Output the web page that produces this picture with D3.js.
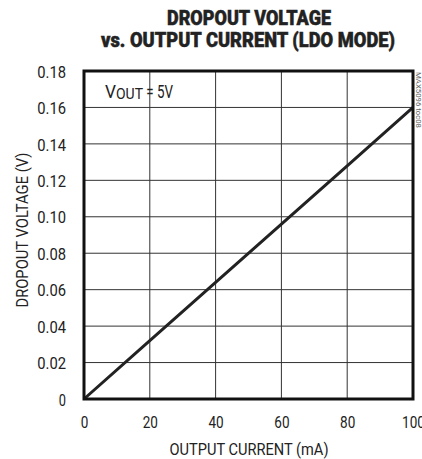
<!DOCTYPE html>
<html><head><meta charset="utf-8">
<script src="https://cdn.jsdelivr.net/npm/d3@7"></script>
<style>
html,body{margin:0;padding:0;background:#fff;}
svg{display:block;}
text{font-family:Roboto,sans-serif;fill:#222;}
</style></head>
<body>
<svg id="c" width="422" height="459"></svg>
<script>
const titleLines = ["DROPOUT VOLTAGE", "vs. OUTPUT CURRENT (LDO MODE)"];
const xTicks = [0, 20, 40, 60, 80, 100];
const yTicks = [0, 0.02, 0.04, 0.06, 0.08, 0.10, 0.12, 0.14, 0.16, 0.18];
const yTickLabels = ["0", "0.02", "0.04", "0.06", "0.08", "0.10", "0.12", "0.14", "0.16", "0.18"];
const current = [0, 20, 40, 60, 80, 100];
const dropout = [0, 0.032, 0.064, 0.096, 0.128, 0.16];

const svg = d3.select("#c");
const L = 84, R = 413, T = 71, B = 399;
const x = d3.scaleLinear().domain([0, 100]).range([L, R]);
const y = d3.scaleLinear().domain([0, 0.18]).range([B, T]);

function narrow(sel, perChar) {
  sel.each(function() {
    const t = d3.select(this);
    const n = t.text().length;
    t.attr("textLength", n * perChar).attr("lengthAdjust", "spacingAndGlyphs");
  });
}

// title
svg.append("text").attr("x", 249).attr("y", 25).attr("text-anchor", "middle")
  .attr("font-weight", "900").attr("font-size", 21).attr("stroke", "#222").attr("stroke-width", 0.5)
  .attr("textLength", 164).attr("lengthAdjust", "spacingAndGlyphs").text(titleLines[0]);
svg.append("text").attr("x", 248).attr("y", 47).attr("text-anchor", "middle")
  .attr("font-weight", "900").attr("font-size", 21).attr("stroke", "#222").attr("stroke-width", 0.5)
  .attr("textLength", 294).attr("lengthAdjust", "spacingAndGlyphs").text(titleLines[1]);

// grid
const g = svg.append("g");
g.selectAll(".vg").data(xTicks.slice(1, -1)).enter().append("line")
  .attr("x1", d => x(d)).attr("x2", d => x(d)).attr("y1", T).attr("y2", B)
  .attr("stroke", "#333").attr("stroke-width", 1);
g.selectAll(".hg").data(yTicks.slice(1, -1)).enter().append("line")
  .attr("y1", d => y(d)).attr("y2", d => y(d)).attr("x1", L).attr("x2", R)
  .attr("stroke", "#333").attr("stroke-width", 1);

// axes (labels only)
const xAxis = d3.axisBottom(x).tickValues(xTicks).tickSize(0).tickPadding(0).tickFormat(d3.format("d"));
const xa = svg.append("g").attr("transform", `translate(0,${B})`).call(xAxis);
xa.select(".domain").remove();
xa.selectAll("text").attr("font-size", 17).attr("dy", null).attr("y", 29)
  .attr("font-family", null).attr("fill", "#222").call(narrow, 7.6);

const yAxis = d3.axisLeft(y).tickValues(yTicks).tickSize(0).tickPadding(0)
  .tickFormat((d, i) => yTickLabels[i]);
const ya = svg.append("g").attr("transform", `translate(${L},0)`).call(yAxis);
ya.select(".domain").remove();
ya.selectAll("text").attr("font-size", 17).attr("x", -18).attr("dy", "0.36em")
  .attr("font-family", null).attr("fill", "#222").call(narrow, 7.2);
svg.selectAll(".tick text").style("font-family", "Roboto, sans-serif");

// data line
const line = d3.line().x((d, i) => x(current[i])).y(d => y(d));
svg.append("path").datum(dropout).attr("d", line).attr("fill", "none")
  .attr("stroke", "#222").attr("stroke-width", 3);

// frame
svg.append("rect").attr("x", L).attr("y", T).attr("width", R - L).attr("height", B - T)
  .attr("fill", "none").attr("stroke", "#111").attr("stroke-width", 3);

// annotation
const ann = svg.append("text").attr("x", 105).attr("y", 98).attr("font-size", 19);
ann.append("tspan").attr("textLength", 11).attr("lengthAdjust", "spacingAndGlyphs").text("V");
ann.append("tspan").attr("font-size", 14).attr("dy", 1).attr("textLength", 27).attr("lengthAdjust", "spacingAndGlyphs").text("OUT");
ann.append("tspan").attr("dy", -1).attr("textLength", 30).attr("lengthAdjust", "spacingAndGlyphs").text(" = 5V");

// axis titles
svg.append("text").attr("x", 249).attr("y", 455).attr("text-anchor", "middle")
  .attr("font-size", 17).attr("textLength", 159).attr("lengthAdjust", "spacingAndGlyphs")
  .text("OUTPUT CURRENT (mA)");
svg.append("text").attr("transform", `translate(28,230) rotate(-90)`)
  .attr("text-anchor", "middle").attr("font-size", 17)
  .attr("textLength", 155).attr("lengthAdjust", "spacingAndGlyphs").text("DROPOUT VOLTAGE (V)");

// side code
svg.append("text").attr("transform", "translate(416,72) rotate(90)")
  .attr("font-size", 7).style("fill", "#666")
  .attr("textLength", 56).attr("lengthAdjust", "spacingAndGlyphs").text("MAX5096 toc08");
</script>
</body></html>
